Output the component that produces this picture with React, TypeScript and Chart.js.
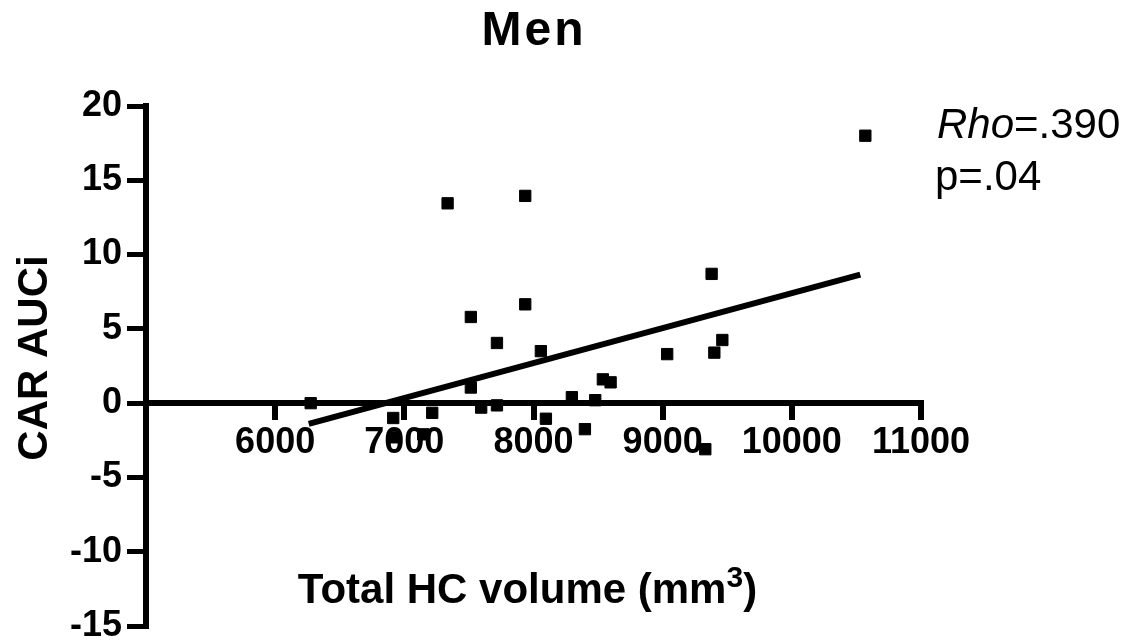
import React, { useEffect, useRef } from 'react';
import { Chart, registerables } from 'chart.js';

Chart.register(...registerables);

// ---- text ----
const chartTitle = 'Men';
const xTitleMain = 'Total HC volume (mm';
const xTitleSup = '3';
const xTitleEnd = ')';
const yTitle = 'CAR AUCi';
const statName = 'Rho';
const statValue = '=.390';
const pText = 'p=.04';

// ---- axes ----
const xMin = 5000;
const xMax = 11000;
const xStep = 1000;
const yMin = -15;
const yMax = 20;
const yStep = 5;

// ---- data: total hippocampal volume (mm3) vs CAR AUCi ----
const volume = [
  6275, 6914, 6920, 7146, 7216, 7335, 7515, 7515, 7595, 7717, 7717, 7936, 7936,
  8057, 8096, 8297, 8398, 8478, 8537, 8597, 9035, 9330, 9379, 9400, 9462, 10569,
];
const carAuci = [
  0.0, -1.0, -2.3, -2.1, -0.65, 13.45, 5.8, 1.05, -0.3, 4.05, -0.15, 13.95, 6.65,
  3.5, -1.05, 0.4, -1.75, 0.2, 1.6, 1.4, 3.3, -3.1, 8.7, 3.4, 4.25, 18.0,
];

// regression line endpoints
const fitX = [6260, 10530];
const fitY = [-1.4, 8.65];

const FAMILY = '"Liberation Sans", Arial, Helvetica, sans-serif';

const textPlugin = {
  id: 'textPlugin',
  afterDraw(chart: any) {
    const { ctx, chartArea } = chart;
    ctx.save();
    ctx.fillStyle = '#000';
    ctx.textBaseline = 'alphabetic';

    // title
    ctx.font = `bold 48px ${FAMILY}`;
    ctx.textAlign = 'left';
    const cx = (chartArea.left + chartArea.right) / 2;
    (ctx as any).letterSpacing = '3px';
    const tw = ctx.measureText(chartTitle).width - 3;
    ctx.fillText(chartTitle, cx - 1 - tw / 2, 45);
    (ctx as any).letterSpacing = '0px';

    // y title
    ctx.save();
    ctx.translate(47, 358);
    ctx.rotate(-Math.PI / 2);
    ctx.font = `bold 42px ${FAMILY}`;
    ctx.textAlign = 'center';
    ctx.fillText(yTitle, 0, 0);
    ctx.restore();

    // x title with superscript
    ctx.textAlign = 'left';
    ctx.font = `bold 42px ${FAMILY}`;
    const w1 = ctx.measureText(xTitleMain).width;
    const w3 = ctx.measureText(xTitleEnd).width;
    ctx.font = `bold 30px ${FAMILY}`;
    const w2 = ctx.measureText(xTitleSup).width;
    let x = cx - 6 - (w1 + w2 + w3) / 2;
    const by = 603;
    ctx.font = `bold 42px ${FAMILY}`;
    ctx.fillText(xTitleMain, x, by);
    x += w1;
    ctx.font = `bold 30px ${FAMILY}`;
    ctx.fillText(xTitleSup, x, by - 16);
    x += w2;
    ctx.font = `bold 42px ${FAMILY}`;
    ctx.fillText(xTitleEnd, x, by);

    // statistics annotation
    ctx.font = `italic 42px ${FAMILY}`;
    ctx.fillText(statName, 937, 138);
    const ws = ctx.measureText(statName).width;
    ctx.font = `42px ${FAMILY}`;
    ctx.fillText(statValue, 937 + ws, 138);
    ctx.fillText(pText, 935, 190);

    ctx.restore();
  },
};

export default function App() {
  const canvasRef = useRef<HTMLCanvasElement | null>(null);

  useEffect(() => {
    const canvas = canvasRef.current;
    if (!canvas) return;
    const tickFont = { family: FAMILY, size: 36, weight: 'bold' as const };
    const chart = new Chart(canvas, {
      type: 'scatter',
      data: {
        datasets: [
          {
            type: 'scatter',
            data: volume.map((v, i) => ({ x: v, y: carAuci[i] })),
            pointStyle: 'rect',
            pointRadius: 8,
            backgroundColor: '#000',
            borderColor: '#000',
            borderWidth: 1,
            order: 0,
          },
          {
            type: 'line',
            data: fitX.map((v, i) => ({ x: v, y: fitY[i] })),
            borderColor: '#000',
            borderWidth: 6,
            pointRadius: 0,
            fill: false,
            order: 1,
          } as any,
        ],
      },
      options: {
        animation: false,
        responsive: false,
        events: [],
        layout: { padding: { left: 0, right: 209, top: 106, bottom: 15 } },
        plugins: {
          legend: { display: false },
          tooltip: { enabled: false },
          title: { display: false },
        },
        scales: {
          x: {
            type: 'linear',
            min: xMin,
            max: xMax,
            position: { y: 0 } as any,
            ticks: {
              stepSize: xStep,
              autoSkip: false,
              maxRotation: 0,
              padding: 4,
              color: '#000',
              font: tickFont,
              callback: (v: any) => (Number(v) === xMin ? '' : String(v)),
            },
            grid: {
              drawOnChartArea: false,
              drawTicks: true,
              tickLength: 14,
              lineWidth: 6,
              tickWidth: 6,
              color: '#000',
              tickColor: '#000',
            },
            border: { display: true, width: 6, color: '#000' },
          },
          y: {
            type: 'linear',
            min: yMin,
            max: yMax,
            ticks: {
              stepSize: yStep,
              padding: 5,
              color: '#000',
              font: tickFont,
            },
            grid: {
              drawOnChartArea: false,
              drawTicks: true,
              tickLength: 19,
              lineWidth: 5,
              tickWidth: 5,
              color: '#000',
              tickColor: '#000',
            },
            border: { display: true, width: 6, color: '#000' },
            afterFit: (s: any) => {
              s.width = 146;
              s.paddingTop = 0;
              s.paddingBottom = 0;
            },
          },
        },
      },
      plugins: [textPlugin],
    });
    return () => chart.destroy();
  }, []);

  return (
    <div style={{ position: 'fixed', left: 0, top: 0, width: 1130, height: 641, background: '#fff' }}>
      <canvas ref={canvasRef} width={1130} height={641} style={{ display: 'block' }} />
    </div>
  );
}
